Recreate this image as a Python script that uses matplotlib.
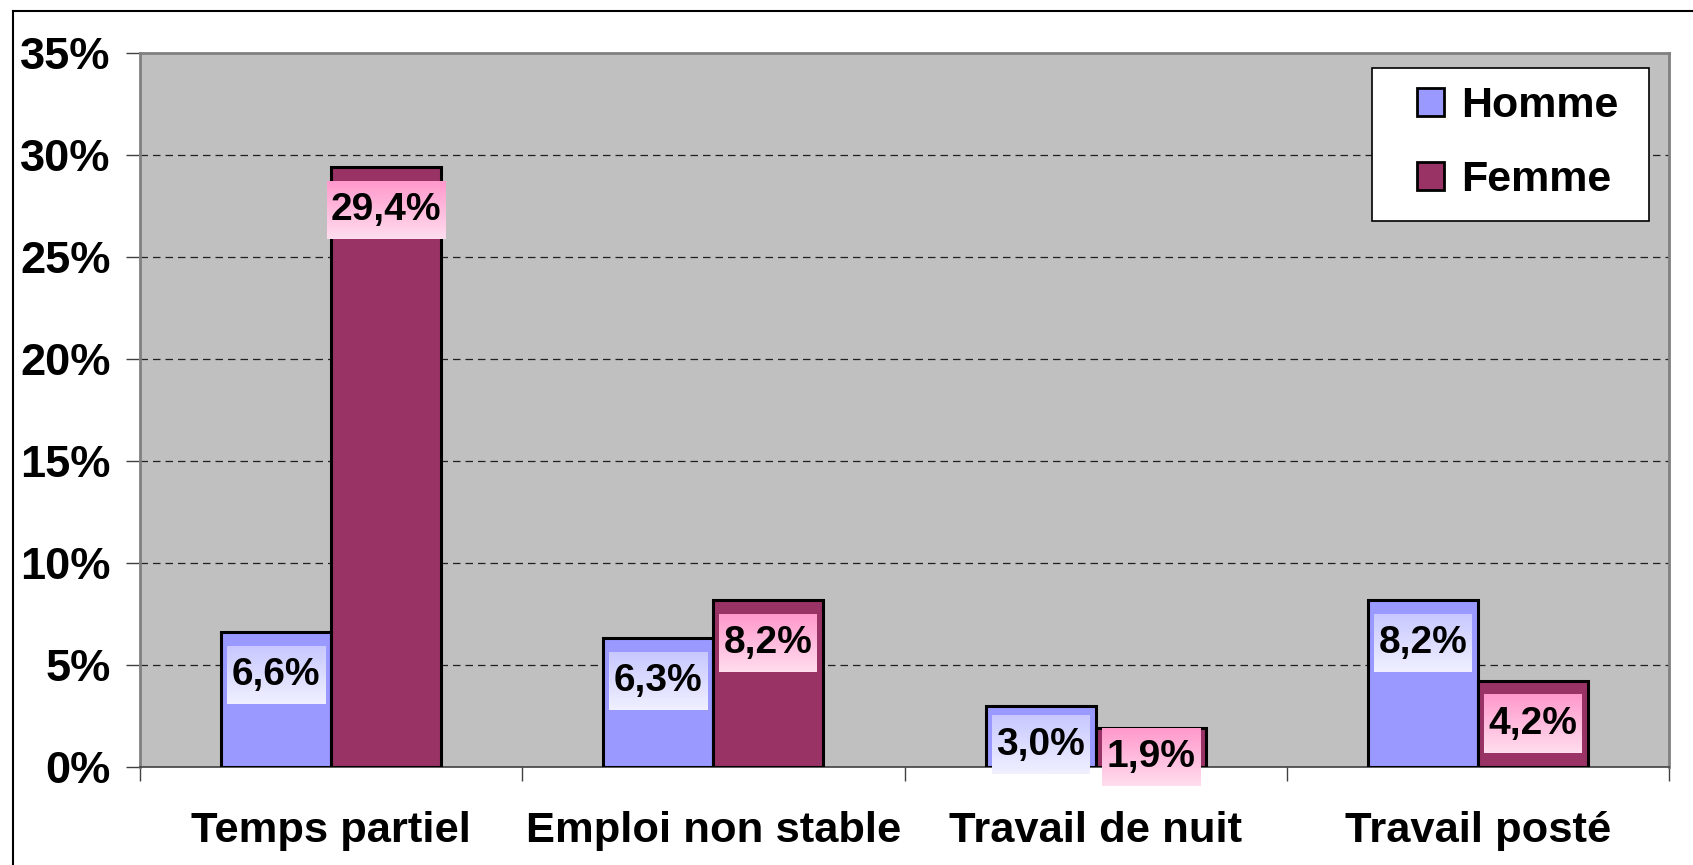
import matplotlib
matplotlib.use("Agg")
import matplotlib.pyplot as plt
import numpy as np
from matplotlib.patches import Patch, Rectangle
from matplotlib.lines import Line2D

# données
categories = ["Temps partiel", "Emploi non stable", "Travail de nuit", "Travail posté"]
homme = [6.6, 6.3, 3.0, 8.2]
femme = [29.4, 8.2, 1.9, 4.2]
y_ticks = [0, 5, 10, 15, 20, 25, 30, 35]

plt.rcParams['font.family'] = ['Liberation Sans', 'DejaVu Sans']
plt.rcParams['font.weight'] = 'bold'

W, H = 1693, 865
fig = plt.figure(figsize=(W / 100, H / 100), dpi=100)
fig.patch.set_facecolor('white')

# zone de tracé (en pixels)
left, right, top, bottom = 140, 1669, 53, 767
ax = fig.add_axes([left / W, (H - bottom) / H, (right - left) / W, (bottom - top) / H])
ax.set_facecolor('#C0C0C0')

x = np.arange(len(categories))
bw = 0.288
col_h = '#9999FF'
col_f = '#993366'
ax.bar(x - bw / 2, homme, bw, color=col_h, edgecolor='black', linewidth=2.2, zorder=3)
ax.bar(x + bw / 2, femme, bw, color=col_f, edgecolor='black', linewidth=2.2, zorder=3)

ax.set_xlim(-0.5, 3.5)
ax.set_ylim(0, 35)

# grille pointillée
for v in y_ticks[1:-1]:
    ax.axhline(v, color='#202020', lw=0.9, ls=(0, (6, 4)), zorder=1)

ax.set_yticks(y_ticks)
ax.set_yticklabels([f"{v}%" for v in y_ticks], fontsize=32.5, fontweight='bold')
ax.tick_params(axis='y', length=10, width=1, color='#404040', pad=11)

ax.set_xticks(np.arange(-0.5, 4, 1))
ax.set_xticklabels([])
ax.tick_params(axis='x', which='major', length=10, width=1, color='#404040')
ax.set_xticks(x, minor=True)
ax.set_xticklabels(categories, minor=True, fontsize=31.3, fontweight='bold')
ax.tick_params(axis='x', which='minor', length=0, pad=32)

for s in ax.spines.values():
    s.set_color('#808080')
    s.set_linewidth(2)
ax.spines['bottom'].set_color('#404040')
ax.spines['bottom'].set_linewidth(1.2)

# étiquettes avec fond dégradé
fig.canvas.draw()
to_disp = ax.transData
to_data = ax.transData.inverted()


def label(xc, v, colors):
    txt = f"{v:.1f}".replace('.', ',') + '%'
    wpx = 98 + 21 * (len(txt) - 4)
    hpx = 58
    if v >= 4:
        gap = 14
    elif v >= 2.5:
        gap = 10
    else:
        gap = 0
    cx, ty = to_disp.transform((xc, v))
    box_top = ty - gap
    box_bot = box_top - hpx
    (x0, y0) = to_data.transform((cx - wpx / 2, box_bot))
    (x1, y1) = to_data.transform((cx + wpx / 2, box_top))
    grad = np.linspace(0, 1, 50)[:, None]
    c_top = np.array(matplotlib.colors.to_rgb(colors[0]))
    c_bot = np.array(matplotlib.colors.to_rgb(colors[1]))
    img = c_top[None, None, :] * (1 - grad[:, :, None]) + c_bot[None, None, :] * grad[:, :, None]
    ax.imshow(img, extent=(x0, x1, y0, y1), origin='upper', aspect='auto',
              zorder=4, clip_on=False)
    ax.text((x0 + x1) / 2, (y0 + y1) / 2, txt, ha='center', va='center',
            fontsize=28, fontweight='bold', zorder=5, clip_on=False)


for i in range(len(categories)):
    label(x[i] - bw / 2, homme[i], ('#C8C8FF', '#F0F0FF'))
    label(x[i] + bw / 2, femme[i], ('#FF99CC', '#FFDDEE'))

ax.set_xlim(-0.5, 3.5)
ax.set_ylim(0, 35)

# légende : cadre dessiné à part
fig.add_artist(Rectangle((1372 / W, 1 - 221 / H), (1649 - 1372) / W, (221 - 68) / H,
                         facecolor='white', edgecolor='black', lw=1.2, zorder=4))
handles = [Patch(facecolor=col_h, edgecolor='black', linewidth=2, label='Homme'),
           Patch(facecolor=col_f, edgecolor='black', linewidth=2, label='Femme')]
leg = fig.legend(handles=handles, loc='center',
                 bbox_to_anchor=((1421 + 1615) / 2 / W, 1 - 143 / H),
                 prop={'weight': 'bold', 'size': 31},
                 handlelength=0.62, handleheight=0.62, handletextpad=0.4,
                 labelspacing=0.8, borderpad=0, frameon=False)
leg.set_zorder(5)

# cadre extérieur
fig.add_artist(Line2D([13 / W, 1], [1 - 11 / H, 1 - 11 / H], color='black', lw=1.5))
fig.add_artist(Line2D([13 / W, 13 / W], [0, 1 - 11 / H], color='black', lw=1.5))

fig.savefig('out.png', dpi=100)
